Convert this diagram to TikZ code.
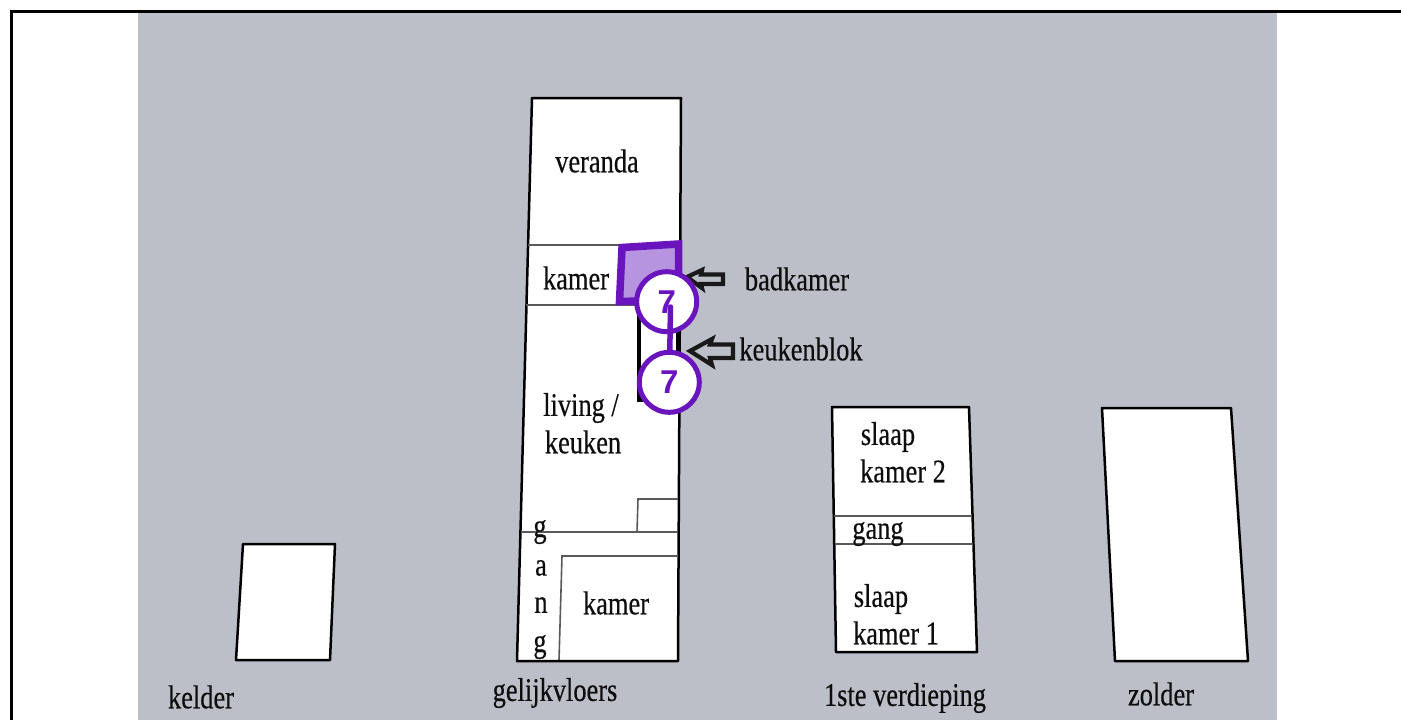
\documentclass[tikz,border=0pt]{standalone}
\usepackage{fontspec}
\setmainfont[FakeStretch=0.8,FakeBold=0.35]{Liberation Serif}
\setsansfont{Liberation Sans}
\definecolor{bggray}{HTML}{BCBEC8}
\definecolor{vio}{HTML}{6A14BE}
\definecolor{viofill}{HTML}{B794E0}
\begin{document}
\begin{tikzpicture}[x=1pt,y=-1pt,
  wall/.style={draw=black,line width=2.5pt,fill=white,line join=round},
  thin wall/.style={draw=black!65,line width=1.6pt},
  lab/.style={inner sep=0pt,text=black!95,font=\fontsize{33}{33}\selectfont},
  badge/.style={circle,draw=vio,line width=5pt,fill=white,minimum size=60pt,inner sep=0pt,text=vio,font=\sffamily\bfseries\fontsize{33}{33}\selectfont},
  pointer/.style={draw=black!90,line width=4.2pt,line join=miter,fill=bggray}]
\useasboundingbox (0,0) rectangle (1401,720);
\fill[white] (0,0) rectangle (1401,720);
\fill[bggray] (138,12) rectangle (1277,720);
\draw[black,line width=3.5pt] (11.5,720) -- (11.5,11.5) -- (1401,11.5);
% ground floor
\draw[wall] (532,98) -- (681,98) -- (678,661) -- (517,661) -- cycle;
\draw[thin wall] (528,245) -- (622,245);
\draw[thin wall] (526,305) -- (640,305);
\draw[thin wall] (521,532) -- (678,532);
\draw[thin wall] (637,532) -- (638,499) -- (678,499);
\draw[thin wall] (559,660) -- (562,556) -- (678,556);
% kitchen block
\draw[black,line width=4.5pt] (639,305) -- (639,400) -- (660,400);
\draw[black,line width=4.5pt] (678,320) -- (678,366);
% bathroom
\draw[draw=vio,line width=7.5pt,fill=viofill,line join=miter] (622,247.5) -- (678.5,244) -- (678.5,300) -- (619.5,301.5) -- cycle;
% arrows
\draw[pointer] (687,277) -- (702,270) -- (701,274.5) -- (723,274.5) -- (723,284) -- (701,284) -- (702,288) -- cycle;
\draw[pointer] (690,351) -- (712,339) -- (710,344.5) -- (733,344.5) -- (733,358) -- (710,358) -- (712,365) -- cycle;
% badges and link
\node[badge] (b1) at (666.7,301.7) {7};
\coordinate (b1end) at (670.5,307);
\coordinate (b2pos) at (669.3,382.3);
\draw[vio,line width=5.5pt,line cap=round] (b2pos) -- (b1end);
\node[badge] (b2) at (b2pos) {7};
% other floors
\draw[wall] (243,544) -- (335,544) -- (330,660) -- (236,660) -- cycle;
\draw[wall] (832,407) -- (969,407) -- (977,652) -- (836,652) -- cycle;
\draw[thin wall] (834,516) -- (972,516);
\draw[thin wall] (835,544) -- (973,544);
\draw[wall] (1102,408) -- (1231,408) -- (1248,661) -- (1115,661) -- cycle;
% labels
\node[lab] (t1) at (597,161) {veranda};
\node[lab] (t2) at (576,278) {kamer};
\node[lab] (t3) at (797,279) {badkamer};
\node[lab] (t4) at (801,349) {keukenblok};
\node[lab] (t5) at (581,408) {living /};
\node[lab] (t6) at (583,442) {keuken};
\node[lab] (g1) at (540,532) {g};
\node[lab] (g2) at (541,568) {a};
\node[lab] (g3) at (541,605) {n};
\node[lab] (g4) at (540,647) {g};
\node[lab] (t7) at (616,603) {kamer};
\node[lab] (t8) at (555,693) {gelijkvloers};
\node[lab] (t9) at (201,697) {kelder};
\node[lab] (t10) at (905,698) {1ste verdieping};
\node[lab] (t11) at (1161,694) {zolder};
\node[lab] (t12) at (888,437) {slaap};
\node[lab] (t13) at (903,471) {kamer 2};
\node[lab] (t14) at (878,534) {gang};
\node[lab] (t15) at (881,599) {slaap};
\node[lab] (t16) at (896,633) {kamer 1};
\end{tikzpicture}
\end{document}
